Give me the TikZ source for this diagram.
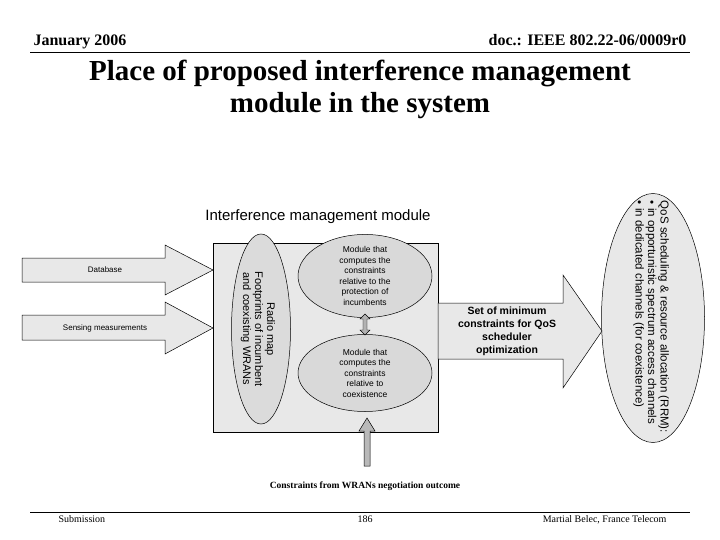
\documentclass[tikz,border=0pt]{standalone}
\usepackage{fontspec}
\setmainfont{Liberation Serif}
\setsansfont{Liberation Sans}
\usetikzlibrary{shapes.geometric,shapes.arrows}
\begin{document}
\begin{tikzpicture}[x=1pt,y=-1pt,
  shade/.style={draw=black,fill=gray!18,line width=0.5pt},
  ell/.style={ellipse,draw=black,fill=gray!30,line width=0.5pt,inner sep=0pt,align=center,font=\sffamily\fontsize{8.5}{10.5}\selectfont},
  hdr/.style={font=\bfseries\fontsize{16}{19}\selectfont}]
\useasboundingbox (0,0) rectangle (720,540);
\fill[white] (0,0) rectangle (720,540);
\node[hdr,anchor=base west] (date) at (30,46) {January 2006};
\node[hdr,anchor=base east] (doc) at (690,46) {doc.: IEEE 802.22-06/0009r0};
\draw[line width=0.8pt] (30,52) coordinate (hl) -- (690,52) coordinate (hr);
\node[font=\bfseries\fontsize{29}{32}\selectfont,align=center] (title) at (360,89) {Place of proposed interference management\\module in the system};
% main box
\node[shade,minimum width=225,minimum height=189,inner sep=0pt] (box) at (325.5,337.5) {};
\node[font=\sffamily\fontsize{15}{18}\selectfont] (boxlbl) at (318,217) {Interference management module};
% input arrows
\draw[shade] (22,258) -- (165,258) -- (165,245) -- (213,270) -- (165,295) -- (165,282) -- (22,282) -- cycle;
\node[font=\sffamily\fontsize{8}{9}\selectfont] (db) at (105,270) {Database};
\draw[shade] (22,315) -- (165,315) -- (165,302) -- (213,328) -- (165,354) -- (165,340) -- (22,340) -- cycle;
\node[font=\sffamily\fontsize{8}{9}\selectfont] (sens) at (105,328) {Sensing measurements};
% radio map ellipse
\node[ell,minimum width=59,minimum height=190,fill=gray!28] (radio) at (261,329) {};
\node[rotate=-90,align=center,font=\sffamily\fontsize{11}{12}\selectfont] (radiot) at (258,329) {Radio map\\Footprints of incumbent\\and coexisting WRANs};
% module ellipses
\node[ell,minimum width=134,minimum height=77] (m1) at (365,276) {Module that\\computes the\\constraints\\relative to the\\protection of\\incumbents};
\node[ell,minimum width=134,minimum height=77] (m2) at (365,373) {Module that\\computes the\\constraints\\relative to\\coexistence};
\fill[gray!60,draw=black,line width=0.4pt] (365,314) -- (370,319) -- (367,319) -- (367,330) -- (370,330) -- (365,335) -- (360,330) -- (363,330) -- (363,319) -- (360,319) -- cycle;
% output arrow
\draw[shade] (438,303) -- (563,303) -- (563,275) -- (602,331) -- (563,388) -- (563,359) -- (438,359) -- cycle;
\node[font=\sffamily\bfseries\fontsize{10.5}{13}\selectfont,align=center] (set) at (507,331) {Set of minimum\\constraints for QoS\\scheduler\\optimization};
% right ellipse
\node[ell,minimum width=103,minimum height=249,fill=gray!18] (qos) at (653,318) {};
\node[rotate=-90,align=left,font=\sffamily\fontsize{11.5}{12.5}\selectfont] (qost) at (651,317) {QoS scheduling \& resource allocation (RRM):\\ \textbullet\ in opportunistic spectrum access channels\\ \textbullet\ in dedicated channels (for coexistence)};
% up arrow
\draw[fill=gray!55,draw=black,line width=0.5pt] (364,466) -- (364,431) -- (359,431) -- (367,418) -- (375,431) -- (370,431) -- (370,466) -- cycle;
\node[font=\bfseries\fontsize{9.5}{11}\selectfont] (cons) at (365,486) {Constraints from WRANs negotiation outcome};
% footer
\draw[line width=0.5pt] (30,512) coordinate (fl) -- (690,512) coordinate (fr);
\node[font=\fontsize{10}{12}\selectfont,anchor=base west] (sub) at (55,522) {Submission};
\node[font=\fontsize{10}{12}\selectfont,anchor=base] (pg) at (365,522) {186};
\node[font=\fontsize{10}{12}\selectfont,anchor=base east] (auth) at (670,522) {Martial Belec, France Telecom};
\end{tikzpicture}
\end{document}
